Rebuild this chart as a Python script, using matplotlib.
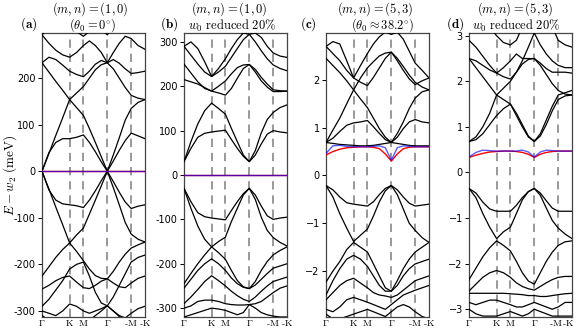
import matplotlib
matplotlib.use("Agg")
import matplotlib.pyplot as plt
import matplotlib.transforms as mtransforms

plt.rcParams['mathtext.fontset'] = 'cm'
plt.rcParams['font.family'] = ['DejaVu Sans']

# k-path: Γ -> K -> M -> Γ -> -M -> -K  (|ΓK| = 1)
k_path = [0, 0.25, 0.5, 0.75, 1.0, 1.25, 1.5, 1.717, 1.933, 2.15, 2.366,
          2.583, 2.8, 3.016, 3.232, 3.482, 3.732]
k_ticks = [0, 1.0, 1.5, 2.366, 3.232, 3.732]
k_labels = [r'$\Gamma$', r'$\mathrm{K}$', r'$\mathrm{M}$', r'$\Gamma$', r'$\mathrm{\text{-}M}$', r'$\mathrm{\text{-}K}$']

# panel (a): (m,n)=(1,0), theta0 = 0, meV
a_flat = [0] * 17
a_up1 = [0, 40, 62, 70, 70, 73, 78, 62, 42, 20, 0, 22, 45, 66, 82, 76, 70]
a_up2 = [0, 38, 77, 115, 154, 137, 120, 92, 62, 31, 0, 35, 72, 110, 135, 148, 154]
a_up3 = [233, 213, 193, 174, 154, 168, 182, 200, 218, 229, 233, 220, 200, 180, 163, 157, 154]
a_up4 = [233, 245, 240, 228, 215, 208, 203, 215, 230, 238, 233, 240, 232, 220, 210, 212, 215]
a_up5 = [293, 275, 260, 250, 245, 255, 270, 280, 270, 255, 233, 255, 275, 290, 285, 270, 262]
a_up6 = [293, 310, 320, 320, 310, 300, 290, 300, 310, 305, 293, 310, 320, 320, 310, 305, 300]
a_dn1 = [0, -40, -62, -70, -72, -74, -78, -62, -42, -20, 0, -22, -45, -66, -80, -75, -72]
a_dn2 = [0, -38, -77, -115, -154, -137, -122, -92, -62, -31, 0, -35, -72, -110, -135, -146, -152]
a_dn3 = [-225, -205, -185, -168, -154, -172, -192, -210, -224, -230, -231, -215, -195, -178, -165, -158, -152]
a_dn4 = [-253, -245, -235, -228, -225, -238, -250, -252, -245, -236, -231, -240, -248, -250, -240, -230, -225]
a_dn5 = [-290, -275, -255, -235, -210, -200, -195, -225, -260, -283, -289, -270, -245, -220, -195, -185, -180]
a_dn6 = [-300, -305, -310, -300, -285, -290, -300, -305, -300, -295, -289, -300, -310, -315, -305, -295, -290]
a_dn7 = [-310, -320, -320, -320, -320, -320, -320, -320, -310, -300, -289, -300, -312, -320, -320, -320, -320]

# panel (b): (m,n)=(1,0), w0 reduced 20%, meV
b_flat = [0] * 17
b_up1 = [30, 60, 85, 94, 97, 99, 101, 80, 60, 42, 30, 45, 70, 92, 100, 97, 95]
b_up2 = [30, 75, 115, 145, 162, 150, 137, 105, 75, 45, 30, 55, 95, 125, 141, 152, 158]
b_up3 = [250, 230, 210, 195, 189, 200, 212, 228, 242, 248, 249, 238, 220, 205, 192, 190, 189]
b_up4 = [215, 210, 205, 197, 189, 185, 180, 195, 218, 240, 249, 232, 212, 198, 188, 188, 189]
b_up5 = [290, 270, 250, 232, 222, 232, 245, 265, 285, 305, 317, 300, 280, 262, 248, 240, 235]
b_up6 = [290, 300, 285, 255, 222, 240, 262, 285, 305, 320, 317, 320, 310, 290, 275, 268, 265]
b_dn1 = [-30, -60, -85, -94, -97, -99, -101, -80, -60, -42, -30, -45, -70, -92, -100, -97, -95]
b_dn2 = [-30, -75, -115, -145, -162, -150, -140, -105, -75, -45, -30, -55, -95, -125, -141, -152, -160]
b_dn3 = [-245, -222, -200, -180, -162, -175, -190, -215, -238, -252, -256, -240, -215, -195, -180, -170, -162]
b_dn4 = [-255, -235, -215, -200, -189, -200, -215, -232, -245, -253, -256, -248, -235, -222, -210, -205, -200]
b_dn5 = [-290, -275, -258, -240, -227, -238, -250, -262, -272, -280, -285, -275, -262, -250, -240, -235, -230]
b_dn6 = [-300, -295, -285, -282, -282, -285, -290, -292, -293, -293, -292, -290, -285, -275, -265, -255, -250]
b_dn7 = [-320, -315, -310, -305, -300, -302, -305, -310, -315, -310, -292, -300, -310, -315, -318, -320, -320]

# panel (c): (m,n)=(5,3), theta0 ~ 38.2 deg
c_red = [0.43, 0.5, 0.55, 0.58, 0.59, 0.6, 0.6, 0.59, 0.56, 0.45, 0.3, 0.45, 0.56, 0.59, 0.6, 0.6, 0.6]
c_blue = [0.46, 0.62, 0.63, 0.61, 0.6, 0.6, 0.6, 0.61, 0.62, 0.58, 0.32, 0.58, 0.62, 0.61, 0.6, 0.6, 0.6]
c_up1 = [0.69, 0.67, 0.65, 0.64, 0.63, 0.62, 0.62, 0.63, 0.65, 0.67, 0.69, 0.67, 0.65, 0.63, 0.62, 0.62, 0.62]
c_up2 = [0.69, 0.78, 0.92, 1.05, 1.1, 1.12, 1.15, 1.02, 0.88, 0.75, 0.69, 0.8, 0.98, 1.12, 1.17, 1.12, 1.1]
c_up3 = [0.69, 0.95, 1.2, 1.5, 1.79, 1.6, 1.42, 1.2, 0.98, 0.8, 0.69, 0.88, 1.12, 1.4, 1.62, 1.75, 1.79]
c_up4 = [2.45, 2.3, 2.15, 1.98, 1.79, 2.04, 2.25, 2.38, 2.5, 2.56, 2.58, 2.45, 2.28, 2.1, 1.95, 1.85, 1.79]
c_up5 = [2.7, 2.55, 2.4, 2.2, 2.04, 1.95, 1.88, 2.05, 2.25, 2.45, 2.58, 2.4, 2.2, 2.02, 1.9, 1.98, 2.04]
c_up6 = [2.7, 2.8, 2.75, 2.4, 2.04, 2.3, 2.55, 2.75, 2.9, 3.0, 2.95, 3.0, 2.85, 2.6, 2.35, 2.2, 2.04]
c_dn1 = [-0.21, -0.3, -0.45, -0.57, -0.6, -0.62, -0.64, -0.55, -0.4, -0.27, -0.21, -0.3, -0.45, -0.58, -0.64, -0.62, -0.6]
c_dn2 = [-0.21, -0.45, -0.8, -1.1, -1.38, -1.25, -1.12, -0.85, -0.55, -0.32, -0.21, -0.4, -0.7, -1.0, -1.15, -1.3, -1.4]
c_dn3 = [-2.23, -2.0, -1.8, -1.55, -1.4, -1.5, -1.6, -1.85, -2.1, -2.35, -2.42, -2.2, -1.95, -1.75, -1.6, -1.5, -1.4]
c_dn4 = [-2.5, -2.2, -1.95, -1.75, -1.67, -1.75, -1.9, -2.1, -2.3, -2.42, -2.42, -2.3, -2.1, -1.95, -1.85, -1.8, -1.75]
c_dn5 = [-2.6, -2.45, -2.3, -2.2, -2.15, -2.25, -2.35, -2.45, -2.5, -2.52, -2.55, -2.5, -2.4, -2.3, -2.2, -2.15, -2.1]
c_dn6 = [-2.8, -2.85, -2.75, -2.6, -2.55, -2.6, -2.65, -2.7, -2.75, -2.8, -2.7, -2.6, -2.5, -2.45, -2.4, -2.35, -2.3]
c_dn7 = [-2.9, -3.0, -3.0, -2.95, -2.9, -2.85, -2.8, -2.85, -2.9, -2.95, -2.85, -2.75, -2.7, -2.75, -2.85, -2.95, -3.0]

# panel (d): (m,n)=(5,3), w0 reduced 20%
d_red = [0.33, 0.38, 0.42, 0.45, 0.46, 0.47, 0.47, 0.46, 0.44, 0.4, 0.33, 0.4, 0.44, 0.46, 0.47, 0.47, 0.47]
d_blue = [0.34, 0.44, 0.49, 0.48, 0.47, 0.47, 0.47, 0.47, 0.49, 0.45, 0.34, 0.45, 0.49, 0.48, 0.47, 0.47, 0.47]
d_up1 = [0.68, 0.78, 1.0, 1.3, 1.7, 1.6, 1.5, 1.3, 1.05, 0.8, 0.68, 0.8, 1.05, 1.35, 1.6, 1.68, 1.7]
d_up2 = [0.68, 0.72, 0.85, 1.05, 1.25, 1.4, 1.5, 1.25, 1.0, 0.78, 0.68, 0.85, 1.15, 1.45, 1.7, 1.75, 1.8]
d_up3 = [2.5, 2.3, 2.1, 1.9, 1.7, 1.85, 2.0, 2.2, 2.38, 2.48, 2.5, 2.35, 2.15, 1.95, 1.8, 1.72, 1.7]
d_up4 = [2.5, 2.45, 2.35, 2.25, 2.18, 2.3, 2.45, 2.6, 2.5, 2.5, 2.5, 2.4, 2.28, 2.2, 2.2, 2.2, 2.18]
d_up5 = [2.9, 2.75, 2.55, 2.35, 2.18, 2.1, 2.05, 2.2, 2.45, 2.75, 3.06, 2.8, 2.6, 2.45, 2.35, 2.3, 2.3]
d_up6 = [3.06, 3.2, 3.2, 3.2, 3.0, 2.85, 2.8, 2.9, 3.2, 3.2, 3.06, 3.2, 3.2, 3.2, 2.9, 2.8, 2.75]
d_dn1 = [-0.35, -0.45, -0.65, -0.8, -0.85, -0.85, -0.85, -0.72, -0.55, -0.42, -0.35, -0.45, -0.62, -0.78, -0.85, -0.85, -0.85]
d_dn2 = [-0.35, -0.55, -0.9, -1.2, -1.45, -1.3, -1.2, -0.9, -0.6, -0.42, -0.35, -0.5, -0.78, -1.05, -1.22, -1.35, -1.45]
d_dn3 = [-2.35, -2.1, -1.85, -1.65, -1.5, -1.6, -1.72, -1.95, -2.2, -2.38, -2.45, -2.2, -1.95, -1.75, -1.6, -1.52, -1.5]
d_dn4 = [-2.6, -2.45, -2.3, -2.2, -2.15, -2.2, -2.3, -2.42, -2.5, -2.55, -2.58, -2.5, -2.42, -2.35, -2.3, -2.28, -2.28]
d_dn5 = [-2.65, -2.65, -2.65, -2.65, -2.65, -2.65, -2.66, -2.67, -2.68, -2.7, -2.7, -2.72, -2.72, -2.7, -2.68, -2.66, -2.65]
d_dn6 = [-2.85, -2.9, -2.85, -2.8, -2.8, -2.85, -2.9, -2.95, -2.95, -2.9, -2.85, -2.9, -2.95, -3.0, -2.95, -2.85, -2.85]
d_dn7 = [-3.0, -3.1, -3.15, -3.15, -3.15, -3.1, -3.05, -3.1, -3.15, -3.1, -3.0, -3.05, -3.1, -3.15, -3.15, -3.15, -3.15]

a_yticks = [-300, -200, -100, 0, 100, 200]
b_yticks = [-300, -200, -100, 0, 100, 200, 300]
c_yticks = [-2, -1, 0, 1, 2]
d_yticks = [-3, -2, -1, 0, 1, 2, 3]

panels = [
    dict(black=[a_up1, a_up2, a_up3, a_up4, a_up5, a_up6, a_dn1, a_dn2, a_dn3, a_dn4, a_dn5, a_dn6, a_dn7],
         red=a_flat, blue=a_flat, ylim=(-313, 297), yticks=a_yticks, hyphen=True,
         left=42, title1=r'$(m,n) = (1,0)$', title2=r'$(\theta_0 = 0^{\circ})$', label=r'$\mathbf{(a)}$',
         t1x=90, t2x=93, lx=29),
    dict(black=[b_up1, b_up2, b_up3, b_up4, b_up5, b_up6, b_dn1, b_dn2, b_dn3, b_dn4, b_dn5, b_dn6, b_dn7],
         red=b_flat, blue=b_flat, ylim=(-320, 320), yticks=b_yticks, hyphen=True,
         left=184, title1=r'$(m,n) = (1,0)$', title2=r'$w_0\ \mathrm{reduced}\ 20\%$', label=r'$\mathbf{(b)}$',
         t1x=229, t2x=232, lx=169),
    dict(black=[c_up1, c_up2, c_up3, c_up4, c_up5, c_up6, c_dn1, c_dn2, c_dn3, c_dn4, c_dn5, c_dn6, c_dn7],
         red=c_red, blue=c_blue, ylim=(-2.96, 2.98), yticks=c_yticks, hyphen=False,
         left=326, title1=r'$(m,n) = (5,3)$', title2=r'$(\theta_0 \approx 38.2^{\circ})$', label=r'$\mathbf{(c)}$',
         t1x=375, t2x=383, lx=308),
    dict(black=[d_up1, d_up2, d_up3, d_up4, d_up5, d_up6, d_dn1, d_dn2, d_dn3, d_dn4, d_dn5, d_dn6, d_dn7],
         red=d_red, blue=d_blue, ylim=(-3.17, 3.06), yticks=d_yticks, hyphen=False,
         left=469, title1=r'$(m,n) = (5,3)$', title2=r'$w_0\ \mathrm{reduced}\ 20\%$', label=r'$\mathbf{(d)}$',
         t1x=515, t2x=516, lx=455),
]

W, H = 576, 329
fig = plt.figure(figsize=(W / 100, H / 100), dpi=100)

for p in panels:
    ax = fig.add_axes([p['left'] / W, 1 - 317 / H, 103 / W, 284 / H])
    for band in p['black']:
        ax.plot(k_path, band, color='black', lw=0.9, zorder=3)
    ax.plot(k_path, p['red'], color='red', lw=1.0, zorder=4)
    ax.plot(k_path, p['blue'], color='blue', lw=1.0, alpha=0.65, zorder=5)
    for kx in k_ticks[1:-1]:
        ax.axvline(kx, color='#888888', lw=1.2, ls=(0, (5, 3.5)), zorder=2)
    ax.set_xlim(0, k_path[-1])
    ax.set_ylim(*p['ylim'])
    ax.set_xticks(k_ticks)
    if p['left'] > 400:
        # last two labels drawn by hand, nudged left so they stay inside the figure
        ax.set_xticklabels(k_labels[:-2] + ['', ''], fontsize=7)
        base = mtransforms.blended_transform_factory(ax.transData, ax.transAxes)
        for kx, lab, dx in [(k_ticks[-2], k_labels[-2], -2.5), (k_ticks[-1], k_labels[-1], -3.5)]:
            tr = base + mtransforms.ScaledTranslation(dx / 100, -1 / 100, fig.dpi_scale_trans)
            ax.text(kx, 0, lab, transform=tr, ha='center', va='top', fontsize=7)
    else:
        ax.set_xticklabels(k_labels, fontsize=7)
    ax.set_yticks(p['yticks'])
    if p['hyphen']:
        ax.set_yticklabels([str(v) for v in p['yticks']], fontsize=7)
    else:
        ax.set_yticklabels([str(v).replace('-', '\u2212') for v in p['yticks']], fontsize=7)
    ax.tick_params(axis='x', length=0, pad=1)
    ax.tick_params(axis='y', length=3, width=0.7, pad=1.5)
    for s in ax.spines.values():
        s.set_color('#444444')
        s.set_linewidth(0.9)
    fig.text(p['t1x'] / W, 1 - 9 / H, p['title1'], ha='center', va='center', fontsize=9)
    fig.text(p['t2x'] / W, 1 - 25.5 / H, p['title2'], ha='center', va='center', fontsize=9)
    fig.text(p['lx'] / W, 1 - 24 / H, p['label'], ha='center', va='center', fontsize=9.5)

fig.text(10 / W, 1 - 175 / H, r'$E - w_2\ (\mathrm{meV})$', rotation=90, ha='center', va='center', fontsize=9.5)

fig.savefig('out.png', dpi=100)
